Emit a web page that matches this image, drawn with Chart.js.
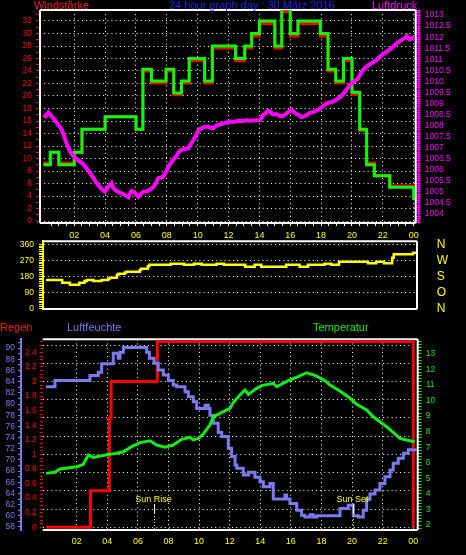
<!DOCTYPE html>
<html>
<head>
<meta charset="utf-8">
<script src="https://cdn.jsdelivr.net/npm/chart.js@4.4.1/dist/chart.umd.min.js"></script>
<style>
  html, body { margin: 0; padding: 0; background: #000; }
  #page { position: relative; width: 466px; height: 555px; overflow: hidden; background: #000; }
  #page canvas { position: absolute; left: 0; }
  .t { position: absolute; font: 11px "Liberation Sans", Arial, sans-serif; line-height: 11px; white-space: nowrap; }
</style>
</head>
<body>
<div id="page">
  <canvas id="top" width="466" height="244" style="top:0"></canvas>
  <canvas id="dir" width="466" height="84" style="top:236px"></canvas>
  <canvas id="bottom" width="466" height="225" style="top:330px"></canvas>
  <div class="t" style="left:34px;top:0;color:#ff1a1a">Windstärke</div>
  <div class="t" style="left:169px;top:0;color:#2222ff">24 hour graph day : 30 März 2016</div>
  <div class="t" style="left:372px;top:0;color:#ff00ff">Luftdruck</div>
  <div class="t" style="left:0;top:322px;color:#ff1a1a">Regen</div>
  <div class="t" style="left:67px;top:322px;color:#7b7bef">Luftfeuchte</div>
  <div class="t" style="left:313px;top:322px;color:#11ee11">Temperatur</div>
</div>
<script>
// x tick hours, shown as 02 ... 22, 00
const hourTicks = [2, 4, 6, 8, 10, 12, 14, 16, 18, 20, 22, 24]

// Windstärke, step levels: hour the level starts, gust (green) and mean (red)
const windHours = [0, 0.45, 1.0, 2.0, 2.5, 4.0, 6.0, 6.45, 7.0, 7.95, 8.45, 8.95, 9.45, 10.45, 10.95, 12.45, 13.05,
  13.5, 14.0, 15.0, 15.45, 16.0, 16.5, 17.95, 18.45, 18.95, 19.45, 20.0, 20.5, 20.95, 21.45, 22.45, 24.0]
const windGust = [9, 11, 9, 11, 14.7, 16.7, 14.7, 24.3, 22.4, 24.3, 20.5, 22.4, 26, 22.4, 28, 26, 28,
  30, 32, 28, 34, 30, 32, 30, 24.3, 22.4, 26, 20.6, 14.7, 9, 7.25, 5.4, 3.4]
const windMean = [9.3, 11, 9.3, 11, 14.7, 16.7, 14.7, 24, 22.1, 24, 20.2, 22.1, 25.7, 22.1, 27.7, 25.7, 27.7,
  29.6, 31.6, 27.7, 33.5, 29.6, 31.6, 29.6, 24, 22.1, 25.7, 20.3, 14.5, 9.3, 7.25, 5.6, 5.2]

// Luftdruck (hPa)
const pressureHours = [
  0, 0.15, 0.32, 0.5, 0.65, 0.8, 0.96, 1.12, 1.29, 1.4,
  1.5, 1.62, 1.73, 1.85, 1.98, 2.2, 2.37, 2.55, 2.7, 2.85,
  3.02, 3.2, 3.35, 3.5, 3.67, 3.85, 3.99, 4.1, 4.21, 4.32,
  4.42, 4.52, 4.64, 4.8, 4.96, 5.12, 5.29, 5.4, 5.51, 5.62,
  5.72, 5.83, 5.94, 6.05, 6.15, 6.3, 6.48, 6.65, 6.8, 6.95,
  7.13, 7.3, 7.45, 7.62, 7.77, 7.95, 8.1, 8.25, 8.42, 8.6,
  8.75, 8.9, 9.07, 9.25, 9.4, 9.55, 9.72, 9.88, 10.04, 10.2,
  10.37, 10.52, 10.69, 10.85, 11.01, 11.18, 11.34, 11.5, 11.66, 11.88,
  12.09, 12.25, 12.42, 12.7, 12.9, 13.1, 13.39, 13.7, 14.04, 14.15,
  14.25, 14.4, 14.54, 14.69, 14.85, 15.0, 15.12, 15.33, 15.55, 15.75,
  15.98, 16.09, 16.25, 16.42, 16.6, 16.74, 16.85, 17.05, 17.28, 17.55,
  17.82, 18.1, 18.36, 18.58, 18.79, 19.0, 19.22, 19.4, 19.55, 19.7,
  19.87, 20.03, 20.19, 20.3, 20.41, 20.52, 20.63, 20.8, 20.95, 21.1,
  21.28, 21.45, 21.6, 21.75, 21.93, 22.1, 22.25, 22.4, 22.57, 22.75,
  22.9, 23.05, 23.22, 23.4, 23.55, 23.65, 23.76, 23.9, 24.04]
const pressureValues = [
  1008.48, 1008.42, 1008.6, 1008.45, 1008.33, 1008.2, 1008.03, 1007.9, 1007.65, 1007.4,
  1007.2, 1007.0, 1006.82, 1006.7, 1006.59, 1006.45, 1006.37, 1006.28, 1006.14, 1006.02,
  1005.84, 1005.68, 1005.51, 1005.35, 1005.21, 1005.08, 1005.01, 1005.12, 1005.24, 1005.32,
  1005.39, 1005.2, 1005.09, 1005.02, 1004.96, 1004.92, 1004.86, 1004.82, 1004.76, 1004.95,
  1005.04, 1004.98, 1004.94, 1004.85, 1004.78, 1004.9, 1005.01, 1005.02, 1005.05, 1005.12,
  1005.21, 1005.4, 1005.62, 1005.65, 1005.69, 1005.9, 1006.14, 1006.3, 1006.44, 1006.6,
  1006.77, 1006.88, 1006.93, 1006.95, 1006.97, 1007.15, 1007.35, 1007.55, 1007.77, 1007.87,
  1007.92, 1007.95, 1007.95, 1007.9, 1007.88, 1007.98, 1008.03, 1008.06, 1008.1, 1008.14,
  1008.18, 1008.16, 1008.18, 1008.22, 1008.2, 1008.24, 1008.22, 1008.24, 1008.25, 1008.36,
  1008.48, 1008.56, 1008.66, 1008.63, 1008.52, 1008.5, 1008.52, 1008.43, 1008.43, 1008.55,
  1008.66, 1008.72, 1008.6, 1008.52, 1008.45, 1008.38, 1008.4, 1008.48, 1008.57, 1008.63,
  1008.71, 1008.86, 1009.01, 1009.05, 1009.08, 1009.18, 1009.28, 1009.4, 1009.53, 1009.68,
  1009.84, 1009.95, 1010.02, 1010.08, 1010.14, 1010.3, 1010.44, 1010.56, 1010.67, 1010.75,
  1010.82, 1010.9, 1010.97, 1011.08, 1011.19, 1011.27, 1011.34, 1011.42, 1011.5, 1011.62,
  1011.72, 1011.8, 1011.87, 1011.95, 1012.05, 1011.95, 1011.9, 1011.95, 1011.99]

// Windrichtung (degrees), step levels
const dirHours = [
  0, 1.05, 1.55, 2.16, 2.5, 2.64, 3.07, 3.61, 4.04, 4.15,
  4.6, 4.69, 5.1, 5.19, 6.08, 6.16, 6.6, 6.7, 8.09, 8.95,
  9.6, 10.1, 11.07, 11.54, 12.92, 13.53, 13.96, 15.58, 16.45, 16.99,
  18.07, 18.5, 19.0, 20.88, 21.42, 21.92, 22.45, 22.55, 23.8, 24.0]
const dirValues = [
  159, 144, 133, 144, 153, 159, 153, 159, 168, 172,
  189, 195, 200, 206, 215, 223, 236, 245, 251, 245,
  251, 245, 251, 245, 234, 245, 234, 245, 234, 245,
  251, 245, 262, 253, 262, 253, 285, 304, 313, 313]
const dirTicks = [0, 90, 180, 270, 360]
const dirLetters = ['N', 'O', 'S', 'W', 'N']

// Regen (mm), step levels
const rainHours = [0, 2.9, 4.13, 4.25, 7.27, 24]
const rainValues = [0, 0.5, 1.5, 2.0, 2.55, 0]

// Luftfeuchte (%), step levels
const humHours = [
  0, 0.58, 2.87, 3.41, 3.63, 4.39, 4.72, 4.83, 5.05, 6.57,
  6.75, 7.05, 7.33, 7.66, 7.99, 8.31, 8.53, 9.08, 9.3, 9.62,
  9.84, 10.39, 10.6, 10.71, 10.93, 11.25, 11.48, 11.91, 12.13, 12.35,
  12.46, 12.89, 13.22, 13.65, 13.98, 14.2, 14.63, 14.85, 15.61, 15.72,
  15.94, 16.38, 16.7, 16.92, 17.25, 17.46, 17.69, 19.21, 19.75, 20.08,
  20.41, 20.73, 20.95, 21.17, 21.5, 21.82, 22.15, 22.48, 22.69, 23.02,
  23.35, 23.67, 24.16]
const humValues = [
  83.1, 84.2, 85.1, 85.7, 87.2, 89.1, 88.2, 89.25, 90.1, 89.25,
  88.2, 87.3, 86.1, 85.2, 84.2, 83.4, 83.1, 82.2, 81.3, 80.4,
  79.2, 79.8, 79.2, 78.0, 76.55, 74.9, 74.2, 72.1, 70.6, 69.1,
  68.5, 67.3, 67.8, 66.9, 66.1, 65.2, 65.8, 63.0, 63.7, 63.0,
  62.2, 61.0, 60.1, 59.8, 60.2, 59.8, 60.0, 61.3, 61.9, 60.0,
  59.8, 61.0, 62.95, 63.9, 64.6, 65.8, 67.0, 68.2, 69.4, 70.3,
  71.2, 71.8, 72.0]

// Temperatur (°C)
const tempHours = [
  0, 0.58, 0.91, 2.0, 2.43, 2.76, 3.08, 3.96, 4.5, 5.05,
  5.59, 6.14, 6.79, 7.23, 7.77, 8.31, 8.86, 9.41, 9.62, 9.95,
  10.27, 10.71, 10.93, 11.37, 12.02, 12.24, 12.67, 13.0, 13.22, 13.76,
  14.09, 14.85, 15.07, 15.83, 16.48, 17.03, 17.58, 18.23, 18.56, 18.99,
  19.42, 19.86, 20.3, 20.95, 21.39, 21.82, 22.26, 22.69, 23.13, 23.78,
  24.1]
const tempValues = [
  5.32, 5.39, 5.6, 5.75, 5.9, 6.5, 6.35, 6.52, 6.6, 6.71,
  7.04, 7.3, 7.42, 7.14, 7.0, 7.14, 7.51, 7.64, 7.47, 7.57,
  7.85, 8.43, 8.97, 9.18, 9.5, 9.89, 10.36, 10.68, 10.4, 10.79,
  10.96, 11.11, 10.89, 11.28, 11.54, 11.79, 11.62, 11.28, 11.0, 10.75,
  10.47, 10.15, 9.76, 9.4, 8.96, 8.64, 8.32, 7.96, 7.57, 7.42,
  7.35]

const sunLabels = ['Sun Rise', 'Sun Set']
const sunHours = [7.07, 20.04]

const RED = '#ff0000'
const GREEN = '#11ee11'
const MAGENTA = '#ff00ff'
const YELLOW = '#ffff00'
const HUM = '#7b7bef'
const WHITE = '#ffffff'

Chart.defaults.font.family = '"Liberation Sans", Arial, sans-serif'
Chart.defaults.font.size = 8.5
Chart.defaults.animation = false
Chart.defaults.events = []
Chart.defaults.plugins.legend.display = false
Chart.defaults.plugins.tooltip.enabled = false
Chart.defaults.elements.point.radius = 0
Chart.defaults.elements.line.tension = 0

function points(xs, ys) {
  return xs.map((x, i) => ({ x: x, y: ys[i] }))
}

function every(from, to, step) {
  const out = []
  for (let i = 0; from + i * step <= to + 1e-9; i++) out.push(Math.round((from + i * step) * 1000) / 1000)
  return out
}

function on(v, m) {
  return Math.abs(v / m - Math.round(v / m)) < 1e-6
}

function ticksAt(values) {
  return scale => { scale.ticks = values.map(v => ({ value: v })) }
}

// pin axis size so the plot area lands where the original has it
function fitTo(size) {
  return scale => {
    if (scale.isHorizontal()) scale.height = size
    else scale.width = size
    scale.paddingTop = scale.paddingBottom = scale.paddingLeft = scale.paddingRight = 0
  }
}

const hourLabel = v => (on(v, 2) && v > 0 ? String(v % 24).padStart(2, '0') : '')
const dotted = { display: false, dash: [1, 3.2] }

function frame(sides, extra) {
  return {
    id: 'frame',
    beforeDatasetsDraw(chart) {
      const { ctx, chartArea: a } = chart
      ctx.save()
      ctx.lineWidth = 2
      const lines = {
        top: [a.left, a.top, a.right, a.top],
        right: [a.right, a.top, a.right, a.bottom],
        bottom: [a.left, a.bottom, a.right, a.bottom],
        left: [a.left, a.top, a.left, a.bottom]
      }
      Object.keys(sides).forEach(k => {
        const l = lines[k]
        ctx.strokeStyle = sides[k]
        ctx.beginPath()
        ctx.moveTo(l[0], l[1])
        ctx.lineTo(l[2], l[3])
        ctx.stroke()
      })
      if (extra) {
        ctx.strokeStyle = extra.color
        ctx.beginPath()
        ctx.moveTo(a.right + extra.offset, a.top)
        ctx.lineTo(a.right + extra.offset, a.bottom)
        ctx.stroke()
      }
      ctx.restore()
    }
  }
}

const sunMarkers = {
  id: 'sun',
  afterDatasetsDraw(chart) {
    const { ctx, chartArea: a, scales: { x } } = chart
    ctx.save()
    ctx.font = '9px "Liberation Sans", Arial, sans-serif'
    ctx.textAlign = 'center'
    sunHours.forEach((h, i) => {
      const px = Math.round(x.getPixelForValue(h)) + 0.5
      ctx.fillStyle = YELLOW
      ctx.fillText(sunLabels[i], px - 1, a.bottom - 28)
      ctx.lineWidth = 1
      ctx.strokeStyle = WHITE
      ctx.beginPath()
      ctx.moveTo(px, a.bottom - 26)
      ctx.lineTo(px, a.bottom - 17)
      ctx.stroke()
      ctx.strokeStyle = YELLOW
      ctx.setLineDash([1, 2])
      ctx.beginPath()
      ctx.moveTo(px, a.bottom - 17)
      ctx.lineTo(px, a.bottom)
      ctx.stroke()
      ctx.setLineDash([])
    })
    ctx.restore()
  }
}

// Windstärke + Luftdruck
new Chart(document.getElementById('top'), {
  type: 'line',
  data: {
    datasets: [
      { data: points(pressureHours, pressureValues), yAxisID: 'y1', borderColor: MAGENTA, borderWidth: 4 },
      { data: points(windHours, windGust), yAxisID: 'y', borderColor: '#00ff00', borderWidth: 3, stepped: true },
      { data: points(windHours, windMean), yAxisID: 'y', borderColor: RED, borderWidth: 3, stepped: true }
    ]
  },
  options: {
    responsive: false,
    layout: { padding: { top: 10, left: 0, right: 0, bottom: 0 } },
    scales: {
      x: {
        type: 'linear', min: -0.22, max: 24.13,
        afterBuildTicks: ticksAt(every(0.5, 24, 0.5)),
        afterFit: fitTo(21),
        grid: { color: c => (c.tick && on(c.tick.value, 2) ? WHITE : 'transparent'), tickColor: WHITE, tickLength: 3 },
        border: dotted,
        ticks: { color: YELLOW, font: { size: 9 }, padding: 4, autoSkip: false, maxRotation: 0, callback: hourLabel }
      },
      y: {
        position: 'left', min: -0.32, max: 33.76,
        afterBuildTicks: ticksAt(every(0, 33, 1)),
        afterFit: fitTo(40),
        grid: { color: c => (c.tick && on(c.tick.value, 2) ? WHITE : 'transparent'), tickColor: RED, tickLength: 4 },
        border: dotted,
        ticks: { color: RED, padding: 4, autoSkip: false, callback: v => (on(v, 2) ? String(v) : '') }
      },
      y1: {
        position: 'right', min: 1003.59, max: 1013.23,
        afterBuildTicks: ticksAt(every(1003.6, 1013.2, 0.1)),
        afterFit: fitTo(50.3),
        grid: { drawOnChartArea: false, tickColor: MAGENTA, tickLength: 5 },
        border: { display: false },
        ticks: { color: MAGENTA, padding: 4, autoSkip: false, callback: v => (on(v, 0.5) ? String(v) : '') }
      }
    }
  },
  plugins: [frame({ top: WHITE, right: WHITE, bottom: WHITE, left: WHITE }, { color: MAGENTA, offset: 3 })]
})

// Windrichtung
new Chart(document.getElementById('dir'), {
  type: 'line',
  data: {
    datasets: [
      { data: points(dirHours, dirValues), borderColor: YELLOW, borderWidth: 2.5, stepped: true }
    ]
  },
  options: {
    responsive: false,
    layout: { padding: { top: 5.3, left: 0, right: 0, bottom: 11 } },
    scales: {
      x: { type: 'linear', display: false, min: -0.195, max: 24.06 },
      y: {
        position: 'left', min: -4, max: 377,
        afterBuildTicks: ticksAt(every(0, 360, 10)),
        afterFit: fitTo(43),
        grid: { color: c => (c.tick && on(c.tick.value, 90) ? WHITE : 'transparent'), tickColor: YELLOW, tickLength: 4 },
        border: { display: true, color: YELLOW, width: 2, dash: [1, 3.2] },
        ticks: { color: YELLOW, padding: 5, autoSkip: false, callback: v => (on(v, 90) ? String(v) : '') }
      },
      y1: {
        position: 'right', min: -4, max: 377,
        afterBuildTicks: ticksAt(dirTicks),
        afterFit: fitTo(49),
        grid: { drawOnChartArea: false, drawTicks: false },
        border: { display: false },
        ticks: { color: YELLOW, padding: 19.7, font: { size: 12 }, autoSkip: false, callback: (v, i) => dirLetters[i] }
      }
    }
  },
  plugins: [frame({ top: WHITE, right: WHITE, bottom: WHITE })]
})

// Regen, Luftfeuchte, Temperatur
new Chart(document.getElementById('bottom'), {
  type: 'line',
  data: {
    datasets: [
      { data: points(tempHours, tempValues), yAxisID: 'temp', borderColor: GREEN, borderWidth: 3 },
      { data: points(humHours, humValues), yAxisID: 'hum', borderColor: HUM, borderWidth: 3, stepped: true },
      { data: points(rainHours, rainValues), yAxisID: 'rain', borderColor: RED, borderWidth: 3, stepped: true }
    ]
  },
  options: {
    responsive: false,
    layout: { padding: { top: 9.3, left: 0, right: 0, bottom: 0 } },
    scales: {
      x: {
        type: 'linear', min: -0.222, max: 24.29,
        afterBuildTicks: ticksAt(hourTicks),
        afterFit: fitTo(25),
        grid: { color: WHITE, drawTicks: false },
        border: dotted,
        ticks: { color: YELLOW, font: { size: 9 }, padding: 6, autoSkip: false, maxRotation: 0, callback: hourLabel }
      },
      hum: {
        position: 'left', weight: 1, min: 57.46, max: 91.58,
        afterBuildTicks: ticksAt(every(58, 91, 1)),
        afterFit: fitTo(21),
        grid: { drawOnChartArea: false, tickColor: HUM, tickLength: 3 },
        border: { display: true, color: HUM, width: 2 },
        ticks: { color: HUM, padding: 3, autoSkip: false, callback: v => (on(v, 2) ? String(v) : '') }
      },
      rain: {
        position: 'left', weight: 0, min: -0.037, max: 2.58,
        afterBuildTicks: ticksAt(every(0, 2.55, 0.05)),
        afterFit: fitTo(21.7),
        grid: { color: c => (c.tick && on(c.tick.value, 0.25) ? WHITE : 'transparent'), tickColor: RED, tickLength: 3 },
        border: dotted,
        ticks: { color: RED, padding: 3, autoSkip: false, callback: v => (on(v, 0.2) ? String(v) : '') }
      },
      temp: {
        position: 'right', min: 1.68, max: 13.94,
        afterBuildTicks: ticksAt(every(1.8, 13.8, 0.2)),
        afterFit: fitTo(48.3),
        grid: { drawOnChartArea: false, tickColor: GREEN, tickLength: 4 },
        border: { display: false },
        ticks: { color: GREEN, padding: 4, autoSkip: false, callback: v => (on(v, 1) ? String(v) : '') }
      }
    }
  },
  plugins: [frame({ top: WHITE, right: WHITE, bottom: WHITE }), sunMarkers]
})
</script>
</body>
</html>
